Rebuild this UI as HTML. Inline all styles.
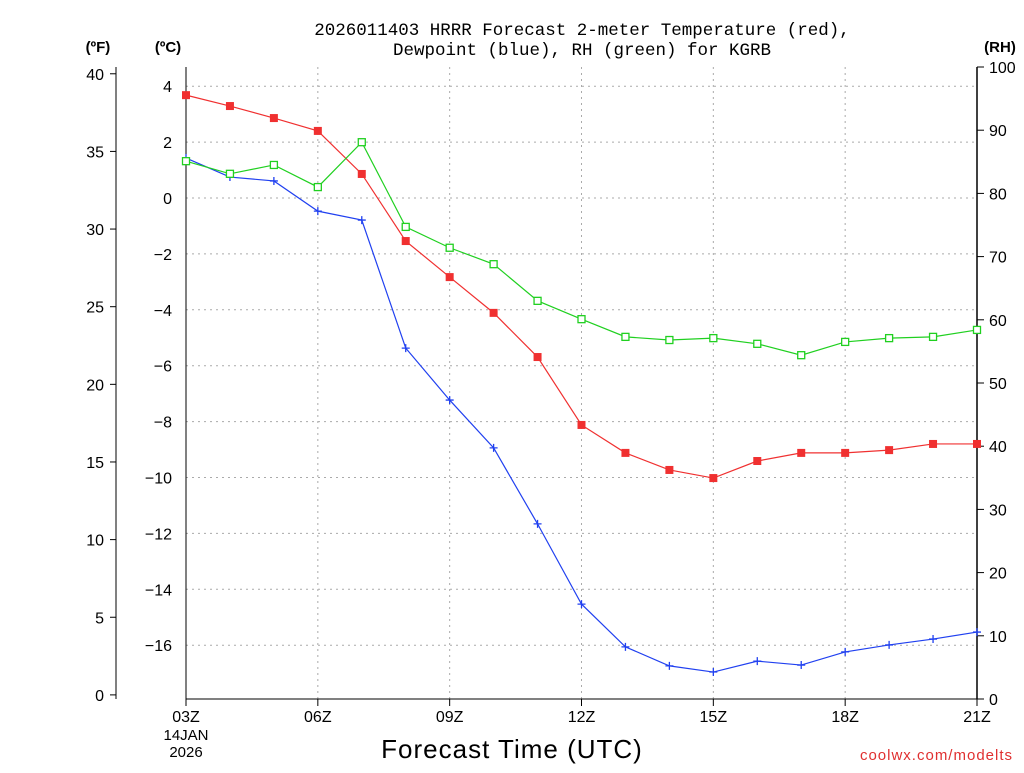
<!DOCTYPE html>
<html><head><meta charset="utf-8"><style>
body{margin:0;background:#fff;}
svg text{font-family:"Liberation Sans",sans-serif;}
svg text.mono{font-family:"Liberation Mono",monospace;}
</style></head><body>
<svg id="chart" width="1024" height="768" xmlns="http://www.w3.org/2000/svg">
<g id="grid"></g>
<g id="axes"></g>
<g id="series"></g>
<text class="mono" x="582" y="35" font-size="17.5" text-anchor="middle">2026011403 HRRR Forecast 2-meter Temperature (red),</text>
<text class="mono" x="582" y="55" font-size="17.5" text-anchor="middle">Dewpoint (blue), RH (green) for KGRB</text>
<text x="98" y="52" font-size="15" font-weight="bold" text-anchor="middle">(ºF)</text>
<text x="168" y="52" font-size="15" font-weight="bold" text-anchor="middle">(ºC)</text>
<text x="1000" y="52" font-size="15" font-weight="bold" text-anchor="middle">(RH)</text>
<text x="512" y="758" font-size="26" text-anchor="middle" letter-spacing="1">Forecast Time (UTC)</text>
<text x="186" y="740" font-size="15" text-anchor="middle">14JAN</text>
<text x="186" y="757" font-size="15" text-anchor="middle">2026</text>
<text x="1013" y="760" font-size="15" fill="#e03030" text-anchor="end" letter-spacing="1">coolwx.com/modelts</text>
</svg>
<script>
const hours=[3,4,5,6,7,8,9,10,11,12,13,14,15,16,17,18,19,20,21];
const tempC=[3.68,3.29,2.86,2.40,0.86,-1.54,-2.83,-4.11,-5.69,-8.12,-9.12,-9.73,-10.02,-9.41,-9.12,-9.12,-9.02,-8.80,-8.80];
const dewC=[1.43,0.75,0.61,-0.47,-0.79,-5.37,-7.23,-8.94,-11.66,-14.53,-16.06,-16.74,-16.96,-16.57,-16.71,-16.24,-15.99,-15.78,-15.53];
const rh=[85.1,83.1,84.5,81.0,88.1,74.7,71.4,68.8,63.0,60.1,57.3,56.8,57.1,56.2,54.4,56.5,57.1,57.3,58.4];
const xTicks=["03Z","06Z","09Z","12Z","15Z","18Z","21Z"];
const cTicks=[4,2,0,-2,-4,-6,-8,-10,-12,-14,-16];
const fTicks=[40,35,30,25,20,15,10,5,0];
const rhTicks=[100,90,80,70,60,50,40,30,20,10,0];
const NS="http://www.w3.org/2000/svg";
const X=h=>186+(h-3)*(977-186)/18;
const YC=c=>198-c*27.95;
const YF=f=>YC((f-32)*5/9);
const YR=r=>699-r*6.32;
function mk(p,t,a){const e=document.createElementNS(NS,t);for(const k in a)e.setAttribute(k,a[k]);p.appendChild(e);return e;}
const grid=document.getElementById('grid'),axes=document.getElementById('axes'),series=document.getElementById('series');
cTicks.forEach(c=>{
 const l=mk(grid,'line',{x1:186,x2:977,y1:YC(c),y2:YC(c),stroke:'#aaa','stroke-dasharray':'2,4'});
 
 
 const t=mk(axes,'text',{x:172,y:YC(c)+6,'font-size':16,'text-anchor':'end'});t.textContent=(c<0?'\u2212'+(-c):c);
 
 
});
xTicks.forEach((s,i)=>{
 const h=3+i*3,x=X(h);
 if(i>0&&i<xTicks.length-1){const l=mk(grid,'line',{x1:x,x2:x,y1:67,y2:699,stroke:'#aaa','stroke-dasharray':'2,4'});
 
 }
 mk(axes,'line',{x1:x,x2:x,y1:699,y2:706,stroke:'#000'});
 const t=mk(axes,'text',{x:x,y:722,'font-size':16,'text-anchor':'middle'});t.textContent=s;
 
 
});
fTicks.forEach(f=>{
 mk(axes,'line',{x1:110,x2:116,y1:YF(f),y2:YF(f),stroke:'#000'});
 const t=mk(axes,'text',{x:104,y:YF(f)+6,'font-size':16,'text-anchor':'end'});t.textContent=f;
 
 
});
rhTicks.forEach(r=>{
 mk(axes,'line',{x1:977,x2:984,y1:YR(r),y2:YR(r),stroke:'#000'});
 const t=mk(axes,'text',{x:989,y:YR(r)+6,'font-size':16});t.textContent=r;
 
 
});
mk(axes,'line',{x1:116,x2:116,y1:67,y2:699,stroke:'#000'});
mk(axes,'line',{x1:186,x2:186,y1:67,y2:699,stroke:'#000'});
mk(axes,'line',{x1:977,x2:977,y1:67,y2:699,stroke:'#000','stroke-width':1.5});
mk(axes,'line',{x1:186,x2:977,y1:699,y2:699,stroke:'#000'});
function line(vals,yf,col,name){
 const p=mk(series,'polyline',{points:vals.map((v,i)=>X(hours[i])+','+yf(v)).join(' '),fill:'none',stroke:col,'stroke-width':1.2});
 
 
 return vals.map((v,i)=>[X(hours[i]),yf(v)]);
}
line(tempC,YC,'#f03030','temperature-line').forEach(([x,y])=>{
 const m=mk(series,'rect',{x:x-4,y:y-4,width:8,height:8,fill:'#f03030'});
 
 
});
line(dewC,YC,'#2040f0','dewpoint-line').forEach(([x,y])=>{
 const m=mk(series,'path',{d:`M${x-4},${y}H${x+4}M${x},${y-4}V${y+4}`,stroke:'#2040f0','stroke-width':1.3});
 
 
});
line(rh,YR,'#20d020','rh-line').forEach(([x,y])=>{
 const m=mk(series,'rect',{x:x-3.5,y:y-3.5,width:7,height:7,fill:'#fff',stroke:'#20d020','stroke-width':1.3});
 
 
});
</script>
</body></html>
